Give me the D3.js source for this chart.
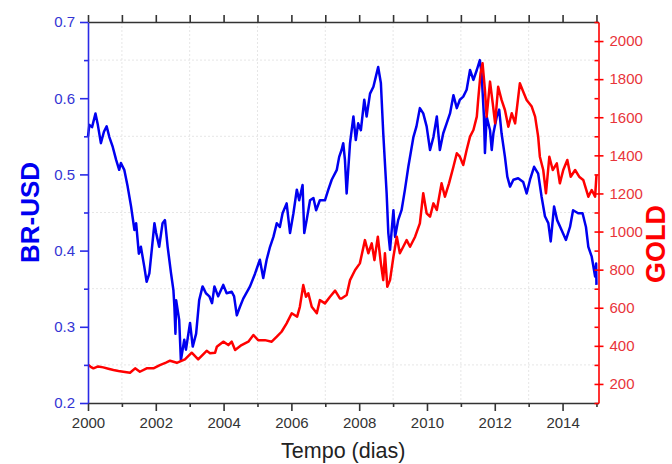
<!DOCTYPE html>
<html>
<head>
<meta charset="utf-8">
<script src="https://cdn.jsdelivr.net/npm/d3@7"></script>
<style>
  html, body { margin: 0; padding: 0; background: #fff; }
  svg { display: block; font-family: "Liberation Sans", Arial, sans-serif; }
</style>
</head>
<body>
<svg id="chart" width="672" height="464"></svg>
<script>
// BR-USD exchange rate (left axis), sampled by decimal year
const brYears = [
  2000.00, 2000.04, 2000.12, 2000.22, 2000.29, 2000.38, 2000.47, 2000.55, 2000.63, 2000.73,
  2000.83, 2000.92, 2000.97, 2001.07, 2001.17, 2001.27, 2001.37, 2001.42, 2001.50, 2001.56,
  2001.66, 2001.73, 2001.81, 2001.89, 2001.96, 2002.01, 2002.10, 2002.20, 2002.27, 2002.35,
  2002.45, 2002.52, 2002.55, 2002.58, 2002.60, 2002.69, 2002.74, 2002.84, 2002.89, 2003.01,
  2003.09, 2003.19, 2003.28, 2003.38, 2003.48, 2003.58, 2003.66, 2003.73, 2003.84, 2003.99,
  2004.09, 2004.24, 2004.31, 2004.39, 2004.48, 2004.58, 2004.78, 2004.93, 2005.07, 2005.17,
  2005.27, 2005.37, 2005.47, 2005.57, 2005.66, 2005.74, 2005.86, 2005.96, 2006.06, 2006.16,
  2006.23, 2006.33, 2006.38, 2006.45, 2006.55, 2006.65, 2006.73, 2006.84, 2006.99, 2007.09,
  2007.19, 2007.34, 2007.41, 2007.48, 2007.53, 2007.58, 2007.63, 2007.73, 2007.83, 2007.90,
  2007.97, 2008.05, 2008.15, 2008.22, 2008.32, 2008.42, 2008.49, 2008.56, 2008.64, 2008.71,
  2008.81, 2008.86, 2008.91, 2009.01, 2009.06, 2009.15, 2009.25, 2009.35, 2009.45, 2009.60,
  2009.69, 2009.79, 2009.89, 2009.99, 2010.09, 2010.19, 2010.29, 2010.38, 2010.48, 2010.58,
  2010.68, 2010.78, 2010.88, 2010.97, 2011.07, 2011.17, 2011.27, 2011.37, 2011.47, 2011.56,
  2011.61, 2011.68, 2011.71, 2011.76, 2011.86, 2011.91, 2011.96, 2012.06, 2012.13, 2012.20,
  2012.30, 2012.37, 2012.45, 2012.55, 2012.69, 2012.84, 2012.94, 2013.04, 2013.16, 2013.28,
  2013.38, 2013.48, 2013.58, 2013.65, 2013.75, 2013.84, 2013.97, 2014.10, 2014.22, 2014.31,
  2014.46, 2014.59, 2014.69, 2014.76, 2014.86, 2014.96, 2014.99, 2015.00
];
const brValues = [
  0.550, 0.565, 0.562, 0.580, 0.565, 0.541, 0.556, 0.563, 0.549, 0.536,
  0.519, 0.506, 0.515, 0.506, 0.484, 0.458, 0.427, 0.436, 0.396, 0.405,
  0.379, 0.359, 0.370, 0.405, 0.436, 0.423, 0.405, 0.436, 0.440, 0.405,
  0.370, 0.348, 0.325, 0.291, 0.335, 0.309, 0.256, 0.283, 0.270, 0.305,
  0.274, 0.291, 0.335, 0.353, 0.344, 0.340, 0.331, 0.353, 0.340, 0.355,
  0.344, 0.346, 0.340, 0.315, 0.326, 0.337, 0.353, 0.370, 0.388, 0.364,
  0.388, 0.405, 0.418, 0.436, 0.431, 0.449, 0.462, 0.423, 0.449, 0.480,
  0.466, 0.486, 0.423, 0.440, 0.466, 0.469, 0.453, 0.466, 0.466, 0.480,
  0.493, 0.506, 0.523, 0.532, 0.541, 0.519, 0.475, 0.541, 0.576, 0.545,
  0.567, 0.558, 0.598, 0.576, 0.606, 0.615, 0.628, 0.641, 0.620, 0.554,
  0.475, 0.423, 0.401, 0.453, 0.418, 0.440, 0.453, 0.480, 0.510, 0.549,
  0.563, 0.587, 0.580, 0.563, 0.532, 0.549, 0.576, 0.532, 0.554, 0.567,
  0.580, 0.604, 0.587, 0.598, 0.602, 0.611, 0.637, 0.624, 0.637, 0.650,
  0.633, 0.576, 0.528, 0.576, 0.558, 0.532, 0.554, 0.576, 0.585, 0.554,
  0.523, 0.497, 0.484, 0.493, 0.495, 0.490, 0.475, 0.493, 0.510, 0.501,
  0.471, 0.445, 0.436, 0.412, 0.458, 0.440, 0.427, 0.414, 0.431, 0.453,
  0.449, 0.449, 0.431, 0.405, 0.392, 0.366, 0.383, 0.355
];

// Gold price (right axis), sampled by decimal year
const goldYears = [
  2000.01, 2000.08, 2000.16, 2000.30, 2000.45, 2000.60, 2000.75, 2000.90, 2001.04, 2001.24,
  2001.39, 2001.53, 2001.73, 2001.93, 2002.12, 2002.30, 2002.42, 2002.62, 2002.86, 2003.06,
  2003.25, 2003.50, 2003.60, 2003.75, 2003.80, 2003.99, 2004.14, 2004.24, 2004.34, 2004.53,
  2004.73, 2004.88, 2005.02, 2005.22, 2005.42, 2005.57, 2005.71, 2005.86, 2006.01, 2006.17,
  2006.25, 2006.35, 2006.43, 2006.50, 2006.60, 2006.75, 2006.84, 2006.99, 2007.14, 2007.29,
  2007.43, 2007.48, 2007.63, 2007.73, 2007.88, 2008.02, 2008.17, 2008.27, 2008.37, 2008.45,
  2008.55, 2008.64, 2008.71, 2008.76, 2008.83, 2008.91, 2009.01, 2009.11, 2009.20, 2009.30,
  2009.40, 2009.50, 2009.65, 2009.79, 2009.89, 2009.99, 2010.09, 2010.19, 2010.29, 2010.43,
  2010.53, 2010.65, 2010.78, 2010.88, 2010.97, 2011.07, 2011.17, 2011.27, 2011.37, 2011.47,
  2011.51, 2011.58, 2011.64, 2011.71, 2011.76, 2011.86, 2011.94, 2012.01, 2012.10, 2012.20,
  2012.30, 2012.40, 2012.50, 2012.60, 2012.74, 2012.84, 2012.94, 2013.09, 2013.19, 2013.28,
  2013.33, 2013.43, 2013.51, 2013.61, 2013.71, 2013.83, 2013.92, 2014.02, 2014.14, 2014.24,
  2014.37, 2014.49, 2014.61, 2014.76, 2014.86, 2014.96, 2015.00
];
const goldValues = [
  299, 290, 282, 292, 287, 280, 273, 268, 264, 259,
  282, 264, 282, 282, 299, 312, 322, 311, 329, 364,
  329, 374, 361, 364, 395, 422, 404, 422, 378, 404,
  422, 457, 430, 430, 422, 448, 474, 518, 571, 553,
  605, 719, 658, 676, 605, 571, 640, 623, 658, 690,
  649, 649, 667, 745, 798, 833, 955, 886, 938, 850,
  973, 833, 745, 886, 710, 745, 868, 973, 886, 920,
  955, 920, 973, 1043, 1201, 1096, 1078, 1148, 1113, 1253,
  1183, 1253, 1340, 1411, 1393, 1349, 1428, 1498, 1533, 1603,
  1691, 1831, 1883, 1743, 1603, 1787, 1673, 1568, 1760, 1691,
  1638, 1550, 1621, 1568, 1778, 1734, 1691, 1656, 1603, 1498,
  1393, 1323, 1201, 1393, 1323, 1358, 1253, 1323, 1376, 1288,
  1323, 1288, 1271, 1183, 1218, 1183, 1297
];

// Axis ticks
const yearTicks = [2000, 2002, 2004, 2006, 2008, 2010, 2012, 2014];
const yearMinorTicks = [2001, 2003, 2005, 2007, 2009, 2011, 2013, 2015];
const brTicks = [0.2, 0.3, 0.4, 0.5, 0.6, 0.7];
const brMinorTicks = [0.25, 0.35, 0.45, 0.55, 0.65];
const goldTicks = [200, 400, 600, 800, 1000, 1200, 1400, 1600, 1800, 2000];
const goldMinorTicks = [100, 300, 500, 700, 900, 1100, 1300, 1500, 1700, 1900, 2100];

const BLUE = "#0000f0", RED = "#ff0000";
const plotLeft = 88, plotRight = 598.5, plotTop = 22, plotBottom = 403;

const svg = d3.select("#chart");
svg.append("rect").attr("width", 672).attr("height", 464).attr("fill", "#fff");

const x = d3.scaleLinear().domain([2000, 2015.06]).range([plotLeft, plotRight]);
const yBR = d3.scaleLinear().domain([0.2, 0.7]).range([plotBottom, plotTop]);
const yGold = d3.scaleLinear().domain([100, 2100]).range([plotBottom, plotTop]);

// faint grid on the minor divisions
const grid = svg.append("g").attr("stroke", "#e6e6e6").attr("stroke-width", 1)
  .attr("stroke-dasharray", "2,2");
grid.selectAll("line.v").data(yearMinorTicks.filter(d => d < 2015)).join("line")
  .attr("class", "v")
  .attr("x1", d => x(d)).attr("x2", d => x(d)).attr("y1", plotTop).attr("y2", plotBottom);
grid.selectAll("line.h").data(brMinorTicks).join("line")
  .attr("class", "h")
  .attr("x1", plotLeft).attr("x2", plotRight).attr("y1", d => yBR(d)).attr("y2", d => yBR(d));

// series
const brLine = d3.line().x((d, i) => x(brYears[i])).y(d => yBR(d));
const goldLine = d3.line().x((d, i) => x(goldYears[i])).y(d => yGold(d));

svg.append("path").datum(brValues).attr("d", brLine)
  .attr("fill", "none").attr("stroke", BLUE).attr("stroke-width", 2.5)
  .attr("stroke-linejoin", "round");
svg.append("path").datum(goldValues).attr("d", goldLine)
  .attr("fill", "none").attr("stroke", RED).attr("stroke-width", 2.5)
  .attr("stroke-linejoin", "round");

const tickFont = 15;
const fontFam = "Liberation Sans, Arial, sans-serif";

// bottom axis
const xAxis = svg.append("g").attr("transform", `translate(0,${plotBottom})`)
  .call(d3.axisBottom(x).tickValues(yearTicks).tickFormat(d3.format("d")).tickSize(8).tickSizeOuter(0));
xAxis.select(".domain").attr("stroke", "#333").attr("stroke-width", 1.6);
xAxis.selectAll(".tick line").attr("stroke", "#333").attr("stroke-width", 1.6);
xAxis.selectAll(".tick text").attr("fill", "#333").attr("font-size", tickFont)
  .attr("font-family", fontFam).attr("dy", "0.95em");
svg.append("g").attr("transform", `translate(0,${plotBottom})`)
  .call(d3.axisBottom(x).tickValues(yearMinorTicks).tickFormat("").tickSize(4).tickSizeOuter(0))
  .call(g => g.select(".domain").remove())
  .selectAll(".tick line").attr("stroke", "#333").attr("stroke-width", 1.6);

// top axis
const xTop = svg.append("g").attr("transform", `translate(0,${plotTop})`)
  .call(d3.axisTop(x).tickValues(yearTicks.concat(yearMinorTicks)).tickFormat("").tickSize(7).tickSizeOuter(0));
xTop.select(".domain").attr("stroke", "#333").attr("stroke-width", 1.6);
xTop.selectAll(".tick line").attr("stroke", "#333").attr("stroke-width", 1.6);

// left axis (BR-USD)
const yl = svg.append("g").attr("transform", `translate(${plotLeft},0)`)
  .call(d3.axisLeft(yBR).tickValues(brTicks).tickFormat(d3.format(".1f")).tickSize(8).tickSizeOuter(0));
yl.select(".domain").attr("stroke", "#2a2ae6").attr("stroke-width", 1.6);
yl.selectAll(".tick line").attr("stroke", "#2a2ae6").attr("stroke-width", 1.6);
yl.selectAll(".tick text").attr("fill", "#3434d4").attr("font-size", tickFont)
  .attr("font-family", fontFam).attr("x", -13);
svg.append("g").attr("transform", `translate(${plotLeft},0)`)
  .call(d3.axisLeft(yBR).tickValues(brMinorTicks).tickFormat("").tickSize(4).tickSizeOuter(0))
  .call(g => g.select(".domain").remove())
  .selectAll(".tick line").attr("stroke", "#2a2ae6").attr("stroke-width", 1.6);

// right axis (gold)
const yr = svg.append("g").attr("transform", `translate(${plotRight},0)`)
  .call(d3.axisRight(yGold).tickValues(goldTicks).tickFormat(d3.format("d")).tickSize(5).tickSizeOuter(0));
yr.select(".domain").attr("stroke", RED).attr("stroke-width", 1.6);
yr.selectAll(".tick line").attr("stroke", RED).attr("stroke-width", 1.6).attr("x1", -4);
yr.selectAll(".tick text").attr("fill", "#e8343a").attr("font-size", tickFont)
  .attr("font-family", fontFam).attr("x", 11);
svg.append("g").attr("transform", `translate(${plotRight},0)`)
  .call(d3.axisLeft(yGold).tickValues(goldMinorTicks).tickFormat("").tickSize(4).tickSizeOuter(0))
  .call(g => g.select(".domain").remove())
  .selectAll(".tick line").attr("stroke", RED).attr("stroke-width", 1.6);

// axis titles
svg.append("text").attr("transform", `translate(39,${(plotTop + plotBottom) / 2}) rotate(-90)`)
  .attr("text-anchor", "middle").attr("font-size", 26).attr("font-weight", "bold")
  .attr("fill", BLUE).text("BR-USD");
svg.append("text").attr("transform", `translate(665,244) rotate(-90)`)
  .attr("text-anchor", "middle").attr("font-size", 27).attr("font-weight", "bold")
  .attr("fill", RED).text("GOLD");
svg.append("text").attr("x", (plotLeft + plotRight) / 2).attr("y", 458)
  .attr("text-anchor", "middle").attr("font-size", 21.5).attr("fill", "#222")
  .text("Tempo (dias)");
</script>
</body>
</html>
